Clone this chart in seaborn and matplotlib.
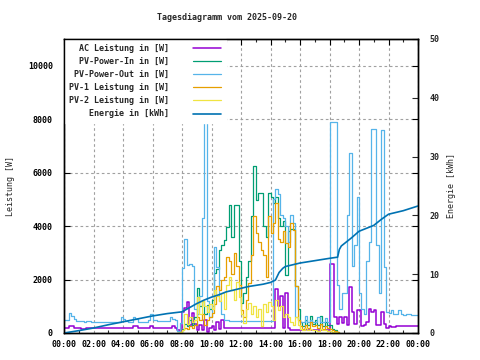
import numpy as np
import pandas as pd
import matplotlib
matplotlib.use("Agg")
import matplotlib.pyplot as plt
import seaborn as sns

# --- data (10-minute samples) ---
day_start = "2025-09-20 00:00"

# AC power, 00:00 .. 24:00 every 10 min
ac_power = [
    175, 175, 250, 250, 175, 175,
    175, 140, 140, 175, 175, 175,
    175, 175, 175, 175, 175, 175,
    175, 175, 175, 175, 175, 175,
    175, 175, 175, 175, 250, 250,
    175, 175, 175, 175, 175, 250,
    175, 175, 175, 175, 175, 175,
    175, 175, 250, 175, 100, 60,
    800, 950, 1160, 300, 750, 350,
    100, 300, 100, 500, 50, 200,
    250, 100, 400, 150, 500, 200,
    200, 175, 175, 175, 175, 175,
    175, 175, 175, 175, 175, 175,
    175, 175, 175, 175, 175, 175,
    175, 175, 1650, 1000, 1400, 175,
    1500, 175, 100, 100, 100, 100,
    100, 100, 150, 100, 100, 100,
    100, 100, 100, 100, 100, 100,
    2580, 2580, 600, 350, 600, 370,
    600, 300, 1730, 800, 350, 860,
    850, 250, 300, 400, 900, 800,
    850, 300, 300, 800, 350, 200,
    260, 210, 210, 260, 260, 260,
    260, 260, 260, 260, 260, 260,
    260,
]

# PV power out, 00:00 .. 24:00 every 10 min
pv_out = [
    490, 490, 760, 620, 520, 450,
    440, 440, 430, 460, 450, 430,
    425, 425, 425, 425, 425, 425,
    425, 425, 425, 425, 425, 610,
    520, 450, 425, 425, 610, 530,
    425, 425, 425, 425, 470, 710,
    500, 470, 440, 440, 440, 440,
    440, 590, 520, 480, 60, 380,
    2430, 3520, 2550, 2600, 2500, 900,
    700, 1400, 4300, 8130, 1200, 600,
    1000, 3230, 2480, 1200, 700, 500,
    480, 450, 450, 450, 450, 450,
    450, 450, 450, 450, 450, 450,
    450, 450, 450, 450, 450, 450,
    450, 5000, 5400, 5200, 4400, 4300,
    4000, 3400, 4400, 4100, 600, 500,
    420, 420, 620, 420, 480, 420,
    420, 600, 420, 420, 560, 420,
    7900, 7900, 7900, 1800, 900, 1500,
    1500, 4420, 6740, 2500, 3300, 5100,
    1500, 900, 700, 2700, 3400, 7640,
    7640, 3300, 1500, 7580, 2480, 800,
    750, 850, 700, 700, 860, 700,
    680, 700, 700, 670, 670, 670,
    670,
]

# PV side, 07:40 .. 18:40 every 10 min
pv_start = "2025-09-20 07:40"
pv_in = [
    0, 40,
    150, 350, 250, 500, 300, 600,
    1680, 1000, 1200, 700, 1050, 900,
    1240, 2250, 2400, 3110, 3300, 3480,
    3980, 4790, 3600, 4800, 4800, 2700,
    1110, 1480, 2100, 2700, 4360, 6230,
    4980, 5240, 5240, 4000, 3610, 5240,
    5100, 4870, 5100, 4300, 4000, 4200,
    2180, 3800, 3900, 3900, 1740, 900,
    400, 250, 500, 300, 640, 350,
    500, 300, 640, 250, 400, 300,
    300, 150, 100, 50, 0,
]
pv1 = [
    0, 20,
    100, 200, 150, 250, 200, 300,
    600, 500, 700, 300, 500, 600,
    740, 1100, 1750, 1600, 2000, 2100,
    2850, 2700, 2200, 3000, 2500, 1800,
    860, 600, 1250, 1870, 2900, 4360,
    3730, 3400, 3110, 2900, 2100, 4360,
    3730, 4110, 4860, 3500, 3400, 3800,
    3360, 3200, 4110, 3860, 1740, 500,
    250, 150, 300, 200, 400, 250,
    300, 200, 350, 150, 250, 200,
    150, 100, 60, 30, 0,
]
pv2 = [
    0, 30,
    100, 700, 350, 600, 400, 500,
    1360, 700, 1200, 1000, 800, 1100,
    900, 1610, 1400, 1200, 1490, 900,
    1800, 2100, 1600, 1240, 1900, 1360,
    700, 370, 900, 1110, 700, 1000,
    600, 900, 250, 1100, 800, 1170,
    1000, 490, 1240, 860, 1000, 600,
    700, 600, 400, 300, 610, 300,
    150, 100, 200, 100, 150, 100,
    100, 80, 150, 100, 100, 80,
    60, 40, 20, 10, 0,
]

energy_time = ["00:00", "01:00", "02:00", "03:00", "04:00", "05:00", "06:00",
               "07:00", "08:00", "08:30", "09:00", "09:30", "10:00", "10:30",
               "11:00", "11:30", "12:00", "12:30", "13:00", "13:30", "14:00",
               "14:20", "14:35", "14:50", "15:00", "15:30", "16:00", "17:00",
               "18:00", "18:33", "18:40", "18:48", "19:03", "19:30", "20:00",
               "20:30", "21:00", "21:30", "22:00", "22:30", "23:00", "23:30",
               "24:00"]
energy_kwh = [0, 0.4, 0.85, 1.4, 1.9, 2.4, 2.9,
              3.3, 3.6, 4.3, 5.0, 5.6, 6.1, 6.5,
              7.0, 7.3, 7.6, 7.9, 8.1, 8.3, 8.6,
              9.0, 10.3, 11.0, 11.3, 11.6, 11.9, 12.3,
              12.7, 12.9, 14.2, 14.8, 15.3, 16.2, 17.3,
              17.8, 18.3, 19.3, 20.2, 20.5, 20.8, 21.2,
              21.6]


def hours_since_midnight(ts):
    t0 = pd.Timestamp(day_start)
    return (pd.DatetimeIndex(ts) - t0).total_seconds() / 3600.0


t_full = hours_since_midnight(pd.date_range(day_start, periods=len(ac_power), freq="10min"))
t_pv = hours_since_midnight(pd.date_range(pv_start, periods=len(pv_in), freq="10min"))
t_energy = [int(s[:2]) + int(s[3:]) / 60 for s in energy_time]

# --- style ---
sns.set_theme(style="white")
plt.rcParams["font.family"] = ["DejaVu Sans Mono"]
plt.rcParams["font.size"] = 6
plt.rcParams["font.weight"] = "bold"

colors = {
    "ac": "#9400d3",
    "pv_in": "#009e73",
    "pv_out": "#56b4e9",
    "pv1": "#e69f00",
    "pv2": "#f0e442",
    "energy": "#0072b2",
}

rect = [64 / 480, 27 / 360, 354 / 480, 294 / 360]
fig = plt.figure(figsize=(4.8, 3.6), dpi=100)
ax = fig.add_axes(rect)
ax2 = ax.twinx()

step = dict(drawstyle="steps-post", legend=False)
sns.lineplot(x=t_full, y=ac_power, ax=ax, color=colors["ac"], lw=1.1, **step)
sns.lineplot(x=t_pv, y=pv_in, ax=ax, color=colors["pv_in"], lw=0.9, **step)
sns.lineplot(x=t_full, y=pv_out, ax=ax, color=colors["pv_out"], lw=0.9, **step)
sns.lineplot(x=t_pv, y=pv1, ax=ax, color=colors["pv1"], lw=0.9, **step)
sns.lineplot(x=t_pv, y=pv2, ax=ax, color=colors["pv2"], lw=0.9, **step)
sns.lineplot(x=t_energy, y=energy_kwh, ax=ax2, color=colors["energy"], lw=1.2,
             legend=False)

ax.set_xlim(0, 24)
ax.set_ylim(0, 11000)
ax2.set_ylim(0, 50)

ax.set_xticks(range(0, 25, 2))
ax.set_xticklabels(["%02d:00" % (h % 24) for h in range(0, 25, 2)])
ax.set_xticks(range(0, 25), minor=True)
ax.set_yticks(range(0, 10001, 2000))
ax2.set_yticks(range(0, 51, 10))

ax.tick_params(axis="both", which="major", direction="in", length=4, width=0.8,
               labelsize=6, top=True, right=True, colors="black")
ax.tick_params(axis="y", pad=8)
ax.tick_params(axis="x", pad=5)
ax.tick_params(axis="x", which="minor", direction="in", length=2, width=0.8,
               top=True, bottom=True)
ax2.tick_params(axis="y", direction="in", length=4, width=0.8, labelsize=6, pad=8)

ax.grid(True, which="major", color="#a0a0a0", ls=(0, (2.4, 2.4)), lw=0.8)
ax.set_axisbelow(True)

for a in (ax, ax2):
    for s in a.spines.values():
        s.set_color("black")
        s.set_linewidth(1.0)
        s.set_zorder(10)

ax.set_xlabel("")
ax.set_ylabel("Leistung [W]", fontsize=6, labelpad=9)
ax2.set_ylabel("Energie [kWh]", fontsize=6, labelpad=6, rotation=90)

labels = ["AC Leistung in [W]", "PV-Power-In in [W]", "PV-Power-Out in [W]",
          "PV-1 Leistung in [W]", "PV-2 Leistung in [W]", "Energie in [kWh]"]
width = max(len(l) for l in labels)
handles = list(ax.get_lines()) + list(ax2.get_lines())
leg = ax2.legend(handles, [l.rjust(width) for l in labels], loc="upper left",
                 markerfirst=False, frameon=True, facecolor="white",
                 edgecolor="white", framealpha=1, fancybox=False,
                 borderaxespad=0, borderpad=0.55, handlelength=3.4,
                 handletextpad=2.9, labelspacing=0.5, fontsize=6)
leg.set_zorder(5)

# left ticks stay visible on top of the key box
ax3 = fig.add_axes(rect, sharey=ax)
ax3.patch.set_visible(False)
for s in ax3.spines.values():
    s.set_visible(False)
ax3.set_xticks([])
ax3.tick_params(axis="y", direction="in", length=4, width=0.8, labelleft=False,
                colors="black")
ax3.grid(False)

fig.text(0.472, 0.95, "Tagesdiagramm vom 2025-09-20", ha="center", va="center",
         fontsize=6)

fig.savefig("out.png", dpi=100)
